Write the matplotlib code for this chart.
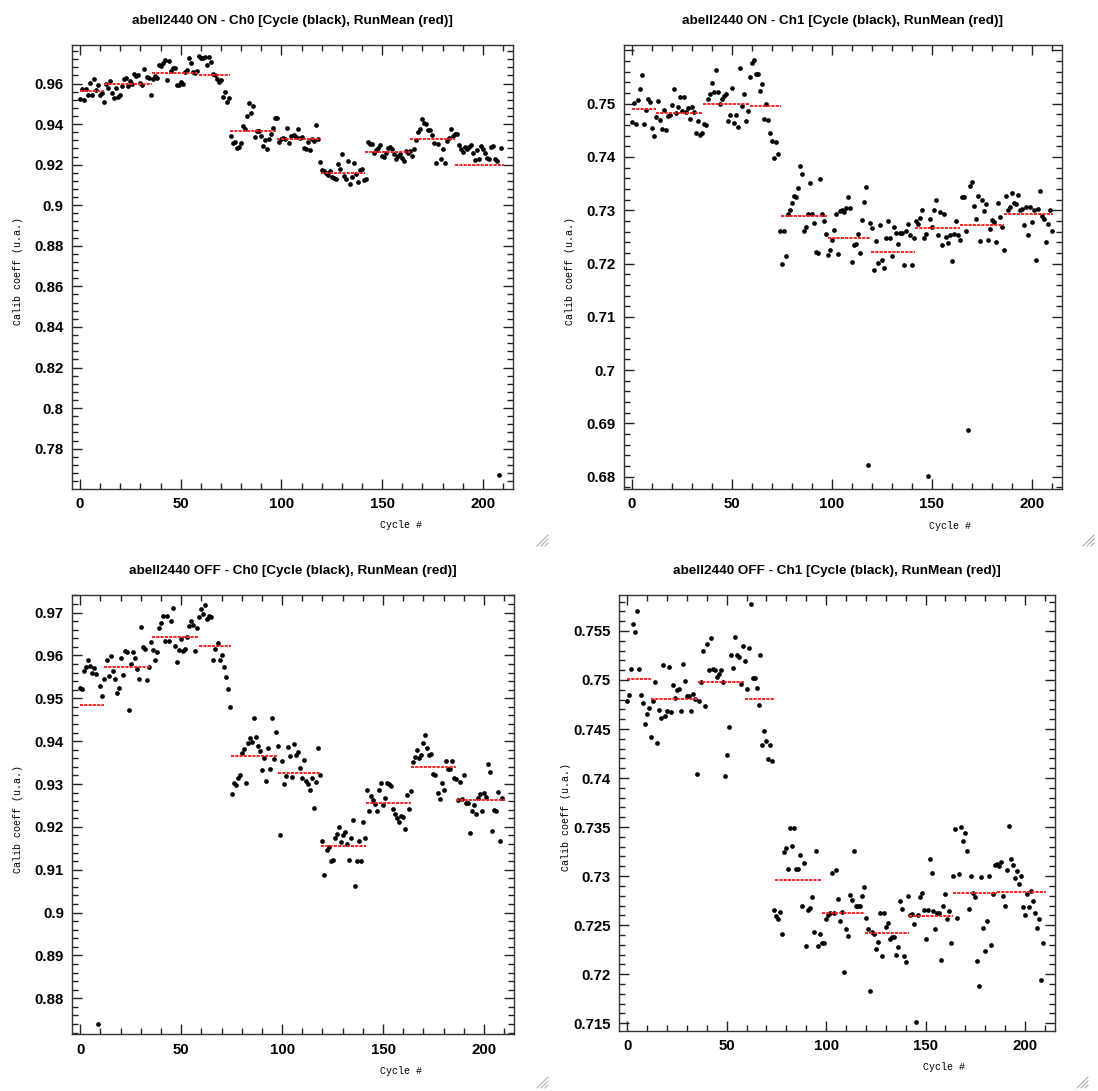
import numpy as np
import matplotlib
matplotlib.use("Agg")
import matplotlib.pyplot as plt
from matplotlib.ticker import MultipleLocator
from matplotlib.lines import Line2D

# Cycle boundaries of the individual runs (shared by all four panels)
run_edges = [0, 12, 35.5, 59, 74.5, 98, 119.5, 141.5, 164, 186, 210.5]

# ---------------- ON - Ch0 ----------------
on_ch0 = [
    0.9523, 0.9572, 0.9518, 0.9575, 0.9542, 0.9605, 0.9542, 0.9621, 0.9569, 0.9592,
    0.9542, 0.9551, 0.9509, 0.9600, 0.9580, 0.9613, 0.9552, 0.9528, 0.9577, 0.9536,
    0.9542, 0.9588, 0.9621, 0.9626, 0.9588, 0.9613, 0.9597, 0.9649, 0.9635, 0.9641,
    0.9605, 0.9593, 0.9674, 0.9630, 0.9625, 0.9542, 0.9621, 0.9638, 0.9625, 0.9692,
    0.9687, 0.9700, 0.9717, 0.9618, 0.9712, 0.9663, 0.9676, 0.9679, 0.9592, 0.9592,
    0.9608, 0.9600, 0.9658, 0.9667, 0.9728, 0.9699, 0.9659, 0.9651, 0.9663, 0.9737,
    0.9728, 0.9727, 0.9733, 0.9691, 0.9732, 0.9704, 0.9646, 0.9643, 0.9621, 0.9610,
    0.9618, 0.9536, 0.9559, 0.9511, 0.9531, 0.9342, 0.9309, 0.9314, 0.9284, 0.9287,
    0.9309, 0.9391, 0.9378, 0.9440, 0.9506, 0.9457, 0.9490, 0.9337, 0.9366, 0.9366,
    0.9342, 0.9292, 0.9320, 0.9276, 0.9328, 0.9350, 0.9383, 0.9429, 0.9429, 0.9314,
    0.9328, 0.9333, 0.9328, 0.9383, 0.9309, 0.9342, 0.9345, 0.9338, 0.9378, 0.9333,
    0.9338, 0.9284, 0.9279, 0.9312, 0.9271, 0.9328, 0.9317, 0.9394, 0.9325, 0.9215,
    0.9172, 0.9169, 0.9161, 0.9147, 0.9169, 0.9141, 0.9136, 0.9131, 0.9202, 0.9180,
    0.9251, 0.9144, 0.9128, 0.9218, 0.9103, 0.9139, 0.9210, 0.9156, 0.9116, 0.9174,
    0.9177, 0.9124, 0.9128, 0.9312, 0.9304, 0.9300, 0.9256, 0.9271, 0.9284, 0.9295,
    0.9243, 0.9240, 0.9259, 0.9284, 0.9289, 0.9276, 0.9251, 0.9230, 0.9243, 0.9251,
    0.9235, 0.9218, 0.9267, 0.9259, 0.9267, 0.9243, 0.9276, 0.9322, 0.9361, 0.9378,
    0.9424, 0.9407, 0.9399, 0.9371, 0.9371, 0.9345, 0.9309, 0.9207, 0.9300, 0.9230,
    0.9276, 0.9207, 0.9317, 0.9333, 0.9378, 0.9342, 0.9350, 0.9353, 0.9295, 0.9279,
    0.9263, 0.9289, 0.9279, 0.9289, 0.9295, 0.9256, 0.9223, 0.9272, 0.9230, 0.9292,
    0.9276, 0.9256, 0.9235, 0.9230, 0.9289, 0.9292, 0.9230, 0.9218, 0.7670, 0.9281,
]
on_ch0_runmean = [0.9564, 0.9597, 0.9654, 0.9643, 0.9366, 0.9325, 0.9160, 0.9263, 0.9328, 0.9198]

# ---------------- ON - Ch1 ----------------
on_ch1 = [
    0.7466, 0.7502, 0.7461, 0.7506, 0.7527, 0.7554, 0.7461, 0.7488, 0.7509, 0.7503,
    0.7455, 0.7439, 0.7474, 0.7504, 0.7469, 0.7453, 0.7488, 0.7450, 0.7476, 0.7478,
    0.7498, 0.7528, 0.7483, 0.7493, 0.7513, 0.7486, 0.7513, 0.7484, 0.7491, 0.7472,
    0.7493, 0.7484, 0.7445, 0.7467, 0.7441, 0.7444, 0.7461, 0.7459, 0.7508, 0.7518,
    0.7539, 0.7521, 0.7564, 0.7521, 0.7499, 0.7508, 0.7514, 0.7518, 0.7467, 0.7478,
    0.7530, 0.7463, 0.7478, 0.7456, 0.7566, 0.7496, 0.7518, 0.7467, 0.7486, 0.7550,
    0.7576, 0.7581, 0.7555, 0.7555, 0.7523, 0.7536, 0.7472, 0.7499, 0.7470, 0.7444,
    0.7429, 0.7398, 0.7428, 0.7405, 0.7261, 0.7199, 0.7261, 0.7214, 0.7293, 0.7301,
    0.7314, 0.7327, 0.7325, 0.7341, 0.7383, 0.7368, 0.7261, 0.7269, 0.7292, 0.7351,
    0.7293, 0.7276, 0.7221, 0.7219, 0.7359, 0.7293, 0.7280, 0.7255, 0.7216, 0.7225,
    0.7244, 0.7263, 0.7293, 0.7218, 0.7299, 0.7301, 0.7297, 0.7305, 0.7325,
    0.7305, 0.7203, 0.7234, 0.7236, 0.7255, 0.7220, 0.7281, 0.7316, 0.7343, 0.6822,
    0.7276, 0.7266, 0.7188, 0.7243, 0.7201, 0.7272, 0.7206, 0.7191, 0.7247, 0.7279,
    0.7248, 0.7214, 0.7268, 0.7258, 0.7236, 0.7258, 0.7257, 0.7197, 0.7261, 0.7275,
    0.7253, 0.7197, 0.7248, 0.7279, 0.7274, 0.7286, 0.7300, 0.7247, 0.7255, 0.6801,
    0.7283, 0.7268, 0.7301, 0.7319, 0.7253, 0.7297, 0.7234, 0.7292, 0.7249, 0.7239,
    0.7254, 0.7205, 0.7255, 0.7279, 0.7253, 0.7244, 0.7325, 0.7324, 0.7261, 0.6887,
    0.7345, 0.7353, 0.7308, 0.7284, 0.7327, 0.7242, 0.7320, 0.7298, 0.7311, 0.7244,
    0.7264, 0.7281, 0.7278, 0.7241, 0.7314, 0.7288, 0.7268, 0.7226, 0.7327, 0.7300,
    0.7306, 0.7333, 0.7314, 0.7311, 0.7328, 0.7301, 0.7303, 0.7272, 0.7306, 0.7253,
    0.7306, 0.7278, 0.7300, 0.7206, 0.7303, 0.7336, 0.7289, 0.7283, 0.7241, 0.7274,
    0.7301, 0.7261,
]
on_ch1_runmean = [0.7489, 0.7483, 0.7500, 0.7496, 0.7289, 0.7247, 0.7222, 0.7266, 0.7273, 0.7293]

# ---------------- OFF - Ch0 ----------------
off_ch0 = [
    0.9523, 0.9521, 0.9563, 0.9573, 0.9590, 0.9576, 0.9560, 0.9570, 0.9556, 0.8739,
    0.9529, 0.9506, 0.9546, 0.9589, 0.9552, 0.9598, 0.9564, 0.9545, 0.9513, 0.9524,
    0.9593, 0.9554, 0.9611, 0.9607, 0.9473, 0.9580, 0.9609, 0.9595, 0.9568, 0.9545,
    0.9666, 0.9619, 0.9616, 0.9542, 0.9572, 0.9632, 0.9613, 0.9589, 0.9609, 0.9663,
    0.9675, 0.9691, 0.9634, 0.9691, 0.9634, 0.9680, 0.9710, 0.9621, 0.9584, 0.9612,
    0.9638, 0.9611, 0.9615, 0.9642, 0.9668, 0.9680, 0.9672, 0.9611, 0.9664, 0.9689,
    0.9708, 0.9697, 0.9718, 0.9685, 0.9691, 0.9689, 0.9589, 0.9615, 0.9628, 0.9589,
    0.9602, 0.9574, 0.9550, 0.9521, 0.9480, 0.9276, 0.9303, 0.9297, 0.9315, 0.9322,
    0.9372, 0.9381, 0.9303, 0.9396, 0.9408, 0.9399, 0.9455, 0.9410, 0.9389, 0.9377,
    0.9333, 0.9360, 0.9307, 0.9383, 0.9336, 0.9453, 0.9358, 0.9421, 0.9389, 0.9180,
    0.9354, 0.9301, 0.9319, 0.9386, 0.9365, 0.9316, 0.9393, 0.9368, 0.9375, 0.9338,
    0.9315,
    0.9356, 0.9307, 0.9301, 0.9286, 0.9313, 0.9243, 0.9305, 0.9383, 0.9321, 0.9168,
    0.9087, 0.9147, 0.9153, 0.9121, 0.9123, 0.9174, 0.9184, 0.9200, 0.9165, 0.9181,
    0.9188, 0.9159, 0.9123, 0.9174, 0.9216, 0.9063, 0.9121, 0.9168, 0.9121, 0.9211,
    0.9173, 0.9287, 0.9237, 0.9272, 0.9262, 0.9254, 0.9237, 0.9285, 0.9303, 0.9252,
    0.9268, 0.9303, 0.9299, 0.9295, 0.9241, 0.9231, 0.9221, 0.9211, 0.9225, 0.9223,
    0.9194, 0.9274, 0.9242, 0.9283, 0.9351, 0.9364, 0.9379, 0.9361, 0.9367, 0.9396,
    0.9414, 0.9383, 0.9368, 0.9369, 0.9324, 0.9321, 0.9280, 0.9266, 0.9303, 0.9287,
    0.9354, 0.9336, 0.9336, 0.9354, 0.9313, 0.9312, 0.9262, 0.9305, 0.9264, 0.9321,
    0.9256, 0.9256, 0.9186, 0.9237, 0.9251, 0.9229, 0.9268, 0.9276, 0.9237, 0.9280,
    0.9270, 0.9346, 0.9328, 0.9190, 0.9239, 0.9237, 0.9281, 0.9168, 0.9268,
]
off_ch0_runmean = [0.9484, 0.9573, 0.9642, 0.9621, 0.9365, 0.9325, 0.9155, 0.9256, 0.9340, 0.9262]

# ---------------- OFF - Ch1 ----------------
off_ch1 = [
    0.7479, 0.7485, 0.7511, 0.7557, 0.7549, 0.7570, 0.7511, 0.7485, 0.7477, 0.7455,
    0.7465, 0.7471, 0.7442, 0.7479, 0.7498, 0.7436, 0.7469, 0.7461, 0.7515, 0.7463,
    0.7468, 0.7513, 0.7467, 0.7495, 0.7482, 0.7490, 0.7491, 0.7468, 0.7516, 0.7499,
    0.7484, 0.7484, 0.7468, 0.7486, 0.7481, 0.7404, 0.7479, 0.7498, 0.7530, 0.7473,
    0.7537, 0.7510, 0.7543, 0.7511, 0.7510, 0.7503, 0.7506, 0.7510, 0.7498, 0.7402,
    0.7424, 0.7452, 0.7525, 0.7512, 0.7544, 0.7525, 0.7523, 0.7496, 0.7535, 0.7519,
    0.7491, 0.7533, 0.7578, 0.7502, 0.7502, 0.7492, 0.7475, 0.7526, 0.7434, 0.7448,
    0.7438, 0.7419, 0.7434, 0.7417, 0.7265, 0.7259, 0.7256, 0.7263, 0.7241, 0.7325,
    0.7329, 0.7307, 0.7349, 0.7331, 0.7349, 0.7307, 0.7307, 0.7322, 0.7269, 0.7313,
    0.7229, 0.7265, 0.7267, 0.7279, 0.7243, 0.7326, 0.7229, 0.7241, 0.7232, 0.7232,
    0.7256, 0.7260, 0.7262, 0.7303, 0.7262, 0.7306, 0.7277, 0.7254, 0.7263, 0.7202,
    0.7246, 0.7239, 0.7281, 0.7276, 0.7326, 0.7270, 0.7270, 0.7270, 0.7280, 0.7289,
    0.7257, 0.7246, 0.7183, 0.7243, 0.7241, 0.7226, 0.7233, 0.7262, 0.7219, 0.7262,
    0.7248, 0.7252, 0.7236, 0.7238, 0.7238, 0.7220, 0.7228, 0.7275, 0.7266, 0.7218,
    0.7212, 0.7280, 0.7260, 0.7261, 0.7251, 0.7151, 0.7260, 0.7279, 0.7283, 0.7265,
    0.7236, 0.7265, 0.7317, 0.7303, 0.7264, 0.7246, 0.7262, 0.7262, 0.7214, 0.7270,
    0.7282, 0.7256, 0.7264, 0.7232, 0.7300, 0.7348, 0.7257, 0.7302, 0.7350, 0.7336,
    0.7344, 0.7326, 0.7266, 0.7300, 0.7283, 0.7279, 0.7213, 0.7188, 0.7299, 0.7247,
    0.7224, 0.7254, 0.7300, 0.7230, 0.7282, 0.7311, 0.7312, 0.7310, 0.7314, 0.7280,
    0.7270, 0.7306, 0.7351, 0.7317, 0.7311, 0.7298, 0.7305, 0.7292, 0.7300, 0.7268,
    0.7260, 0.7282, 0.7268, 0.7285, 0.7275, 0.7262, 0.7247, 0.7256, 0.7194, 0.7232,
]
off_ch1_runmean = [0.7501, 0.7481, 0.7498, 0.7481, 0.7296, 0.7262, 0.7242, 0.7259, 0.7283, 0.7284]

W, H = 1098, 1091

panels = [
    dict(title="abell2440 ON - Ch0 [Cycle (black), RunMean (red)]",
         values=on_ch0, means=on_ch0_runmean,
         ylim=(0.7603, 0.9790), major=0.02, minor=0.004, label_max=0.97,
         box=(72, 45, 513, 488.6)),
    dict(title="abell2440 ON - Ch1 [Cycle (black), RunMean (red)]",
         values=on_ch1, means=on_ch1_runmean,
         ylim=(0.6777, 0.7610), major=0.01, minor=0.002, label_max=0.755,
         box=(623.5, 45, 1062, 489)),
    dict(title="abell2440 OFF - Ch0 [Cycle (black), RunMean (red)]",
         values=off_ch0, means=off_ch0_runmean,
         ylim=(0.8716, 0.9741), major=0.01, minor=0.002, label_max=0.975,
         box=(72.2, 595, 514.2, 1034.3)),
    dict(title="abell2440 OFF - Ch1 [Cycle (black), RunMean (red)]",
         values=off_ch1, means=off_ch1_runmean,
         ylim=(0.7142, 0.7587), major=0.005, minor=0.001, label_max=0.7575,
         box=(619.3, 594.7, 1054.8, 1031)),
]

tick_font = dict(family="Liberation Sans", weight="bold", size=10.8)
mono = ["Liberation Mono", "DejaVu Sans Mono"]


def tick_formatter(label_max):
    def fmt(v, _):
        return "" if v > label_max else "{:g}".format(round(v, 4))
    return plt.FuncFormatter(fmt)


fig = plt.figure(figsize=(W / 100, H / 100), dpi=100)
fig.patch.set_facecolor("white")

for p in panels:
    x0, y0, x1, y1 = p["box"]
    ax = fig.add_axes([x0 / W, 1 - y1 / H, (x1 - x0) / W, (y1 - y0) / H])
    vals = np.asarray(p["values"])
    cycles = np.arange(len(vals))
    ax.plot(cycles, vals, "o", ms=3.4, color="black", mew=0)
    ax.hlines(p["means"], run_edges[:-1], run_edges[1:], colors="#ff2020",
              linestyles=(0, (1.6, 0.6)), linewidth=1.4)

    ax.set_xlim(-4, 215)
    ax.set_ylim(*p["ylim"])
    ax.xaxis.set_major_locator(MultipleLocator(50))
    ax.xaxis.set_minor_locator(MultipleLocator(10))
    ax.yaxis.set_major_locator(MultipleLocator(p["major"]))
    ax.yaxis.set_minor_locator(MultipleLocator(p["minor"]))
    ax.yaxis.set_major_formatter(tick_formatter(p["label_max"]))
    ax.tick_params(which="both", direction="in", top=True, right=True,
                   color="#222222", width=1.0)
    ax.tick_params(which="major", length=7, pad=6)
    ax.tick_params(which="minor", length=4)
    for lab in ax.get_xticklabels() + ax.get_yticklabels():
        lab.set_fontfamily(tick_font["family"])
        lab.set_fontweight(tick_font["weight"])
        lab.set_fontsize(tick_font["size"])
    for sp in ax.spines.values():
        sp.set_color("#333333")
        sp.set_linewidth(1.0)

    ax.set_title(p["title"], fontsize=9.7, fontweight="bold",
                 family="Liberation Sans", pad=15)
    ax.text(-0.122, 0.49, "Calib coeff (u.a.)", transform=ax.transAxes,
            rotation=90, ha="center", va="center", fontsize=7.2, family=mono)
    ax.text(0.745, -0.083, "Cycle #", transform=ax.transAxes,
            ha="center", va="center", fontsize=7.2, family=mono)

# small resize grips at the lower-right corner of each plot window
for gx, gy in [(548, 546), (1094, 546), (548, 1088), (1088, 1088)]:
    for k in (3, 7, 11):
        fig.add_artist(Line2D([(gx - k) / W, gx / W], [1 - gy / H, 1 - (gy - k) / H],
                              color="#b0b0b0", lw=0.8))

fig.savefig("out.png", dpi=100, facecolor="white")
